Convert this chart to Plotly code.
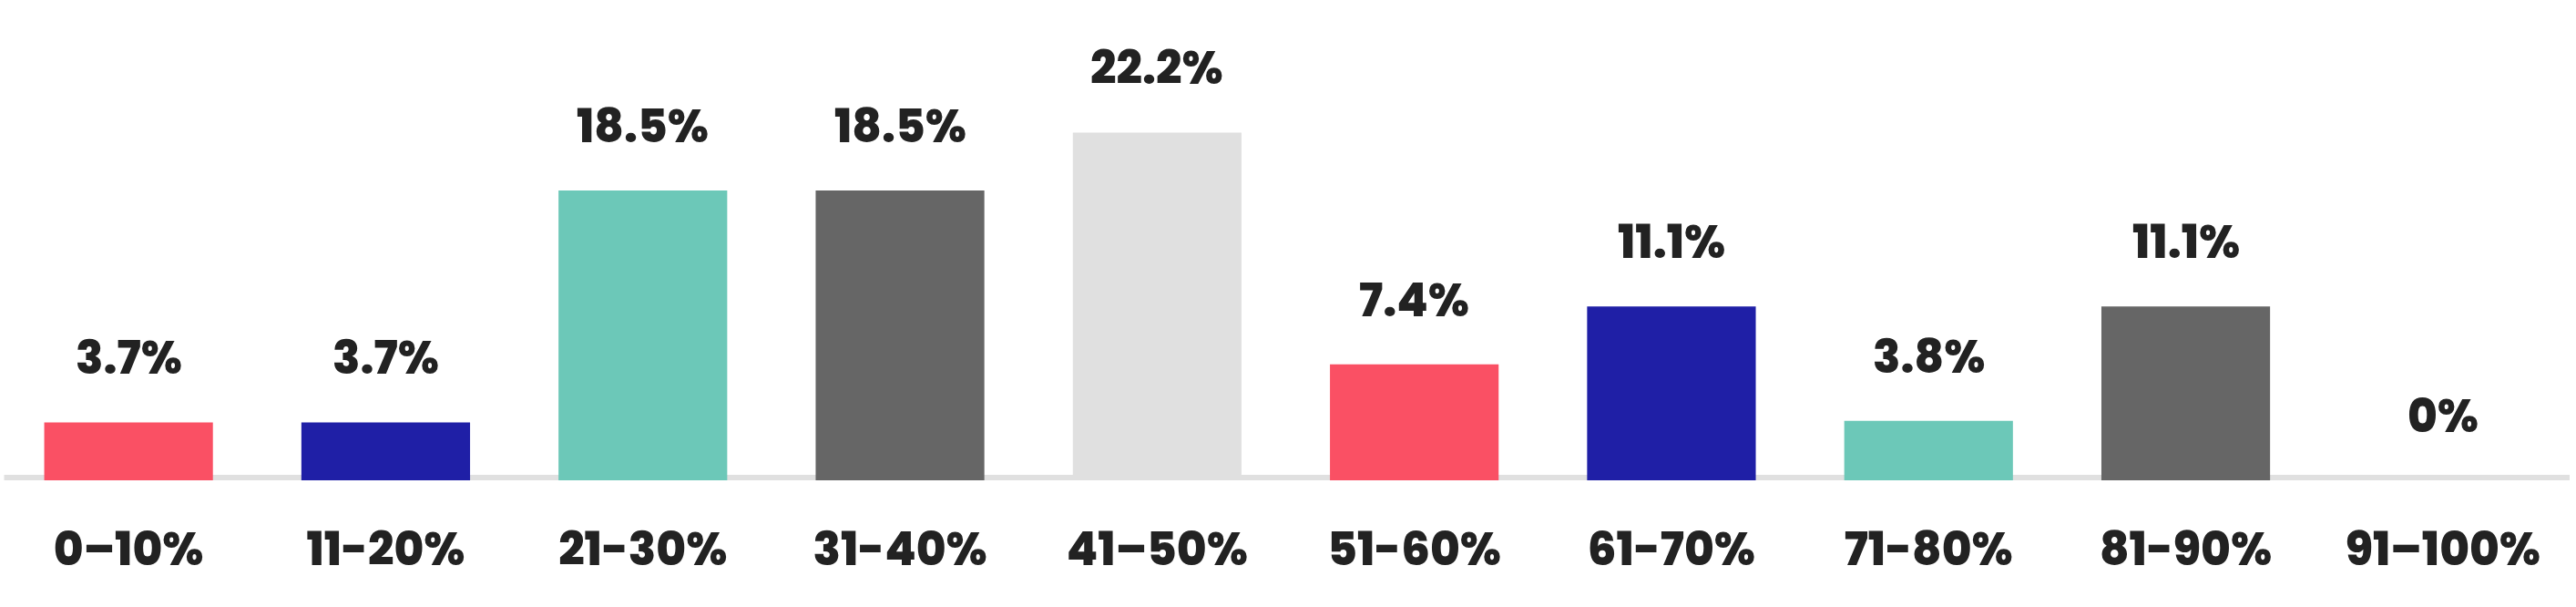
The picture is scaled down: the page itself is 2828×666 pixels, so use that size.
import plotly.graph_objects as go

categories = ["0–10%", "11-20%", "21-30%", "31-40%", "41–50%",
              "51-60%", "61-70%", "71-80%", "81-90%", "91–100%"]
values = [3.7, 3.7, 18.5, 18.5, 22.2, 7.4, 11.1, 3.8, 11.1, 0]
labels = ["3.7%", "3.7%", "18.5%", "18.5%", "22.2%", "7.4%", "11.1%", "3.8%", "11.1%", "0%"]
colors = ["#fa5064", "#1f1fa6", "#6cc8b8", "#666666", "#e0e0e0",
          "#fa5064", "#1f1fa6", "#6cc8b8", "#666666", "#e0e0e0"]

FONT = "Poppins, Inter, 'Noto Sans', sans-serif"
TEXT = "#222222"

fig = go.Figure()
fig.add_trace(go.Bar(
    x=categories, y=values,
    marker=dict(color=colors, line=dict(width=0)),
    hoverinfo="skip",
))

for c, v, t in zip(categories, values, labels):
    fig.add_annotation(
        x=c, y=v, text=t, showarrow=False,
        xanchor="center", yanchor="bottom", yshift=33,
        font=dict(family=FONT, size=50, color=TEXT, weight=800),
    )

# baseline rule
fig.add_shape(
    type="rect", xref="paper", x0=0.0016, x1=0.9993,
    yref="y", ysizemode="pixel", yanchor=0, y0=0, y1=6,
    fillcolor="#e0e0e0", line=dict(width=0), layer="below",
)

fig.update_layout(
    width=2828, height=666, autosize=False,
    margin=dict(l=0, r=5, t=0, b=139),
    paper_bgcolor="white", plot_bgcolor="white",
    bargap=0.344,
    showlegend=False,
    xaxis=dict(
        showgrid=False, zeroline=False, showline=False,
        tickfont=dict(family=FONT, size=50, color=TEXT, weight=800),
        ticks="", ticklabelstandoff=42,
    ),
    yaxis=dict(
        range=[0, 30.66], visible=False, showgrid=False, zeroline=False,
    ),
)

fig.write_html(
    "out.html",
    config={"displayModeBar": False, "staticPlot": True},
    post_script="document.body.style.margin='0';document.body.style.padding='0';",
)
